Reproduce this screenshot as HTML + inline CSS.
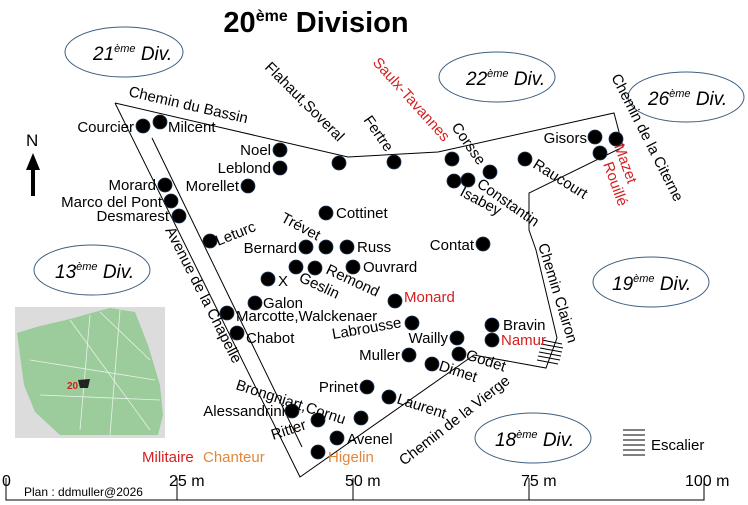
<!DOCTYPE html>
<html><head><meta charset="utf-8"><style>
html,body{margin:0;padding:0;background:#fff}
svg{display:block}
text{font-family:"Liberation Sans",Arial,sans-serif;font-size:15px;fill:#000}
.r{fill:#d42020}.o{fill:#e0883a}
.e{text-anchor:end}
</style></head><body>
<svg width="748" height="505" viewBox="0 0 748 505" xmlns="http://www.w3.org/2000/svg">
<text x="316" y="32" text-anchor="middle" style="font-size:29px;font-weight:bold">20<tspan dy="-11" style="font-size:16px">ème</tspan><tspan dy="11"> Division</tspan></text>

<g fill="none" stroke="#3d5f80" stroke-width="1">
<ellipse cx="124" cy="52" rx="59" ry="25"/>
<ellipse cx="497" cy="77" rx="58" ry="25"/>
<ellipse cx="686" cy="97" rx="58" ry="25"/>
<ellipse cx="92" cy="270" rx="58" ry="25"/>
<ellipse cx="651" cy="282" rx="58" ry="25"/>
<ellipse cx="533" cy="438" rx="58" ry="25"/>
</g>
<g>
<text x="93" y="60" style="font-size:19px;font-style:italic">21<tspan dy="-8" style="font-size:11px">ème</tspan><tspan dy="8"> Div.</tspan></text>
<text x="466" y="85" style="font-size:19px;font-style:italic">22<tspan dy="-8" style="font-size:11px">ème</tspan><tspan dy="8"> Div.</tspan></text>
<text x="648" y="105" style="font-size:19px;font-style:italic">26<tspan dy="-8" style="font-size:11px">ème</tspan><tspan dy="8"> Div.</tspan></text>
<text x="55" y="278" style="font-size:19px;font-style:italic">13<tspan dy="-8" style="font-size:11px">ème</tspan><tspan dy="8"> Div.</tspan></text>
<text x="612" y="290" style="font-size:19px;font-style:italic">19<tspan dy="-8" style="font-size:11px">ème</tspan><tspan dy="8"> Div.</tspan></text>
<text x="495" y="446" style="font-size:19px;font-style:italic">18<tspan dy="-8" style="font-size:11px">ème</tspan><tspan dy="8"> Div.</tspan></text>
</g>

<text x="26" y="146" style="font-size:17px">N</text>
<line x1="33" y1="170" x2="33" y2="196" stroke="#000" stroke-width="4"/>
<polygon points="26,170 40,170 33,153" fill="#000"/>

<g fill="none" stroke="#000" stroke-width="1">
<polyline points="115,103 348,157 438,152 614,113 623,147 529,193 529,230 536,250 557,338 546,368 474,355 300,477 115,103"/>
<line x1="152" y1="138" x2="302" y2="447"/>
<line x1="542" y1="340" x2="562" y2="344"/>
<line x1="541" y1="344" x2="563" y2="348"/>
<line x1="540" y1="348" x2="562" y2="352"/>
<line x1="539" y1="352" x2="561" y2="356"/>
<line x1="538" y1="356" x2="560" y2="360"/>
<line x1="537" y1="360" x2="558" y2="364"/>
<line x1="623" y1="430" x2="645" y2="430"/>
<line x1="623" y1="435" x2="645" y2="435"/>
<line x1="623" y1="440" x2="645" y2="440"/>
<line x1="623" y1="445" x2="645" y2="445"/>
<line x1="623" y1="450" x2="645" y2="450"/>
<line x1="623" y1="455" x2="645" y2="455"/>
<polyline points="6,478 6,500 704,500 704,478"/>
<line x1="177" y1="478" x2="177" y2="500"/>
<line x1="353" y1="478" x2="353" y2="500"/>
<line x1="529" y1="478" x2="529" y2="500"/>
</g>
<text x="651" y="450">Escalier</text>
<text x="2" y="486" style="font-size:16px">0</text>
<text x="169" y="486" style="font-size:16px">25 m</text>
<text x="345" y="486" style="font-size:16px">50 m</text>
<text x="521" y="486" style="font-size:16px">75 m</text>
<text x="685" y="486" style="font-size:16px">100 m</text>
<text x="24" y="496" style="font-size:12px">Plan : ddmuller@2026</text>
<text x="142" y="462" class="r">Militaire</text><text x="203" y="462" class="o">Chanteur</text>

<rect x="15" y="307" width="150" height="131" fill="#dcdcdc"/>
<polygon points="17,333 40,326 70,319 95,312 110,308 135,312 148,345 160,385 163,415 158,435 60,435 35,412 24,385" fill="#9ccc9c"/>
<g stroke="#e8f2e8" stroke-width="0.8" fill="none">
<line x1="70" y1="320" x2="150" y2="430"/><line x1="100" y1="312" x2="150" y2="360"/>
<line x1="30" y1="360" x2="155" y2="380"/><line x1="40" y1="395" x2="160" y2="400"/>
<line x1="90" y1="315" x2="80" y2="430"/><line x1="120" y1="310" x2="110" y2="435"/>
</g>
<text x="67" y="389" style="font-size:10px;font-weight:bold" class="r">20</text>
<polygon points="78,380 90,379 88,388 80,388" fill="#222"/>

<g fill="#000" stroke="#1c3550" stroke-width="0.8">
<circle cx="143" cy="126" r="7"/><circle cx="160" cy="122" r="7"/>
<circle cx="280" cy="150" r="7"/><circle cx="280" cy="168" r="7"/><circle cx="248" cy="186" r="7"/>
<circle cx="339" cy="163" r="7"/><circle cx="394" cy="162" r="7"/>
<circle cx="452" cy="159" r="7"/><circle cx="490" cy="172" r="7"/><circle cx="454" cy="181" r="7"/><circle cx="468" cy="180" r="7"/>
<circle cx="525" cy="159" r="7"/>
<circle cx="595" cy="137" r="7"/><circle cx="616" cy="139" r="7"/><circle cx="600" cy="153" r="7"/>
<circle cx="165" cy="185" r="7"/><circle cx="171" cy="201" r="7"/><circle cx="179" cy="216" r="7"/>
<circle cx="210" cy="241" r="7"/><circle cx="326" cy="213" r="7"/>
<circle cx="306" cy="247" r="7"/><circle cx="326" cy="247" r="7"/><circle cx="347" cy="247" r="7"/>
<circle cx="296" cy="267" r="7"/><circle cx="315" cy="268" r="7"/><circle cx="353" cy="267" r="7"/>
<circle cx="268" cy="279" r="7"/><circle cx="255" cy="303" r="7"/>
<circle cx="227" cy="313" r="7"/><circle cx="237" cy="333" r="7"/>
<circle cx="395" cy="301" r="7"/><circle cx="412" cy="323" r="7"/>
<circle cx="483" cy="244" r="7"/>
<circle cx="492" cy="325" r="7"/><circle cx="492" cy="340" r="7"/>
<circle cx="457" cy="338" r="7"/><circle cx="459" cy="354" r="7"/>
<circle cx="409" cy="355" r="7"/><circle cx="432" cy="364" r="7"/>
<circle cx="367" cy="387" r="7"/><circle cx="389" cy="397" r="7"/><circle cx="361" cy="418" r="7"/>
<circle cx="292" cy="411" r="7"/><circle cx="318" cy="420" r="7"/><circle cx="337" cy="438" r="7"/><circle cx="318" cy="452" r="7"/>
</g>

<text x="134" y="132" class="e">Courcier</text>
<text x="168" y="132">Milcent</text>
<text x="271" y="155" class="e">Noel</text>
<text x="271" y="173" class="e">Leblond</text>
<text x="239" y="191" class="e">Morellet</text>
<text x="156" y="190" class="e">Morard</text>
<text x="162" y="207" class="e">Marco del Pont</text>
<text x="169" y="221" class="e">Desmarest</text>
<text x="218" y="246" transform="rotate(-22 218 246)">Leturc</text>
<text x="336" y="218">Cottinet</text>
<text x="280" y="221" transform="rotate(28 280 221)">Trévet</text>
<text x="297" y="253" class="e">Bernard</text>
<text x="357" y="252">Russ</text>
<text x="363" y="272">Ouvrard</text>
<text x="325" y="273" transform="rotate(25 325 273)">Remond</text>
<text x="298" y="281" transform="rotate(25 298 281)">Geslin</text>
<text x="278" y="286">X</text>
<text x="263" y="308">Galon</text>
<text x="236" y="321">Marcotte,Walckenaer</text>
<text x="246" y="343">Chabot</text>
<text x="404" y="302" class="r">Monard</text>
<text x="402" y="327" class="e" transform="rotate(-10 402 327)">Labrousse</text>
<text x="474" y="250" class="e">Contat</text>
<text x="503" y="330">Bravin</text>
<text x="501" y="345" class="r">Namur</text>
<text x="448" y="343" class="e">Wailly</text>
<text x="400" y="360" class="e">Muller</text>
<text x="438" y="370" transform="rotate(18 438 370)">Dimet</text>
<text x="465" y="359" transform="rotate(18 465 359)">Godet</text>
<text x="358" y="392" class="e">Prinet</text>
<text x="396" y="403" transform="rotate(18 396 403)">Laurent</text>
<text x="235" y="389" transform="rotate(18 235 389)">Brongniart,Cornu</text>
<text x="285" y="416" class="e">Alessandrini</text>
<text x="273" y="440" transform="rotate(-18 273 440)">Ritter</text>
<text x="347" y="444">Avenel</text>
<text x="328" y="462" class="o">Higelin</text>
<text x="128" y="96" transform="rotate(13 128 96)">Chemin du Bassin</text>
<text x="264" y="68" transform="rotate(45 264 68)">Flahaut,Soveral</text>
<text x="363" y="120" transform="rotate(55 363 120)">Fertre</text>
<text x="372" y="63" transform="rotate(48 372 63)" class="r">Saulx-Tavannes</text>
<text x="451" y="127" transform="rotate(55 451 127)">Corsse</text>
<text x="476" y="186" transform="rotate(35 476 186)">Constantin</text>
<text x="459" y="195" transform="rotate(28 459 195)">Isabey</text>
<text x="532" y="167" transform="rotate(32 532 167)">Raucourt</text>
<text x="587" y="143" class="e">Gisors</text>
<text x="614" y="146" transform="rotate(70 614 146)" class="r">Mazet</text>
<text x="603" y="164" transform="rotate(70 603 164)" class="r">Rouillé</text>
<text x="611" y="77" transform="rotate(63 611 77)">Chemin de la Citerne</text>
<text x="538" y="245" transform="rotate(73 538 245)">Chemin Clairon</text>
<text x="404" y="466" transform="rotate(-38 404 466)">Chemin de la Vierge</text>
<text x="165" y="230" transform="rotate(63 165 230)">Avenue de la Chapelle</text>
</svg>
</body></html>
